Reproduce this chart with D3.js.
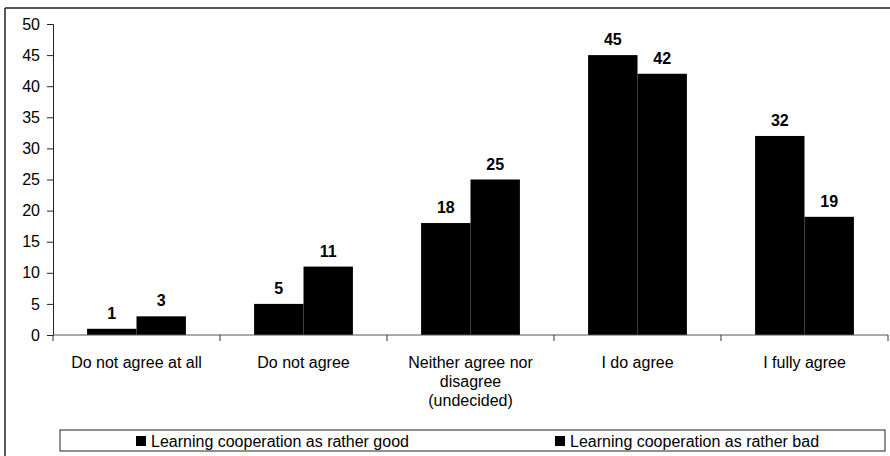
<!DOCTYPE html>
<html lang="en">
  <head>
    <meta charset="UTF-8" />
    <title>Learning cooperation</title>
    <style>
      body { margin: 0; background: #fff; }
      svg { display: block; font-family: Arial, 'Liberation Sans', sans-serif; }
    </style>
  </head>
  <body>
    <svg width="890" height="456"></svg>
    <script src="https://d3js.org/d3.v7.min.js"></script>
    <script>
      const categories = [
        ['Do not agree at all'],
        ['Do not agree'],
        ['Neither agree nor', 'disagree', '(undecided)'],
        ['I do agree'],
        ['I fully agree']
      ];
      const seriesNames = [
        'Learning cooperation as rather good',
        'Learning cooperation as rather bad'
      ];
      const good = [1, 5, 18, 45, 32];
      const bad = [3, 11, 25, 42, 19];
      const yTicks = [0, 5, 10, 15, 20, 25, 30, 35, 40, 45, 50];

      const svg = d3.select('svg');

      // outer frame (top and left edges visible)
      svg.append('line').attr('x1', 5).attr('x2', 890).attr('y1', 8).attr('y2', 8)
        .attr('stroke', '#222').attr('stroke-width', 1.5);
      svg.append('line').attr('x1', 5).attr('x2', 5).attr('y1', 8).attr('y2', 456)
        .attr('stroke', '#222').attr('stroke-width', 1.5);

      const x = d3.scaleBand().domain(d3.range(categories.length)).range([53, 888]);
      const xs = d3.scaleBand().domain([0, 1]).range([0, x.bandwidth()]).paddingOuter(0.69).paddingInner(0);
      const y = d3.scaleLinear().domain([0, 50]).range([335, 24]);

      const data = categories.map((c, i) => ({ i, vals: [good[i], bad[i]] }));

      const grp = svg.append('g').selectAll('g.cat').data(data).join('g')
        .attr('class', 'cat')
        .attr('transform', d => `translate(${x(d.i)},0)`);

      grp.selectAll('rect').data(d => d.vals).join('rect')
        .attr('x', (v, j) => xs(j))
        .attr('width', xs.bandwidth())
        .attr('y', v => y(v))
        .attr('height', v => y(0) - y(v))
        .attr('fill', '#000');

      grp.selectAll('text.val').data(d => d.vals).join('text')
        .attr('class', 'val')
        .attr('x', (v, j) => xs(j) + xs.bandwidth() / 2)
        .attr('y', v => y(v) - 10)
        .attr('text-anchor', 'middle')
        .attr('font-size', 16)
        .attr('font-weight', 'bold')
        .text(v => v);

      // y axis
      const yAxis = svg.append('g').attr('transform', 'translate(53,0)')
        .call(d3.axisLeft(y).tickValues(yTicks).tickSize(6).tickPadding(7));
      yAxis.selectAll('text').attr('font-size', 16).attr('fill', '#000');
      yAxis.selectAll('line,path').attr('stroke', '#222');

      // x axis baseline and ticks at category boundaries
      svg.append('line').attr('x1', 53).attr('x2', 888).attr('y1', y(0)).attr('y2', y(0))
        .attr('stroke', '#555');
      svg.selectAll('line.xt').data(d3.range(categories.length + 1)).join('line')
        .attr('class', 'xt')
        .attr('x1', i => 53 + i * x.step()).attr('x2', i => 53 + i * x.step())
        .attr('y1', y(0)).attr('y2', y(0) + 6)
        .attr('stroke', '#333');

      // category labels
      svg.selectAll('text.cat').data(data).join('text')
        .attr('class', 'cat')
        .attr('x', d => x(d.i) + x.bandwidth() / 2)
        .attr('y', 368)
        .attr('text-anchor', 'middle')
        .attr('font-size', 16)
        .selectAll('tspan').data(d => categories[d.i]).join('tspan')
        .attr('x', function () { return this.parentNode.getAttribute('x'); })
        .attr('dy', (t, k) => (k === 0 ? 0 : 19))
        .text(t => t);

      // legend
      const lg = svg.append('g');
      lg.append('rect').attr('x', 60).attr('y', 430).attr('width', 825).attr('height', 21)
        .attr('fill', 'none').attr('stroke', '#222');
      const legX = [136, 555];
      seriesNames.forEach((s, k) => {
        lg.append('rect').attr('x', legX[k]).attr('y', 436).attr('width', 10).attr('height', 10).attr('fill', '#000');
        lg.append('text').attr('x', legX[k] + 15).attr('y', 446.5).attr('font-size', 16).text(s);
      });
    </script>
  </body>
</html>
